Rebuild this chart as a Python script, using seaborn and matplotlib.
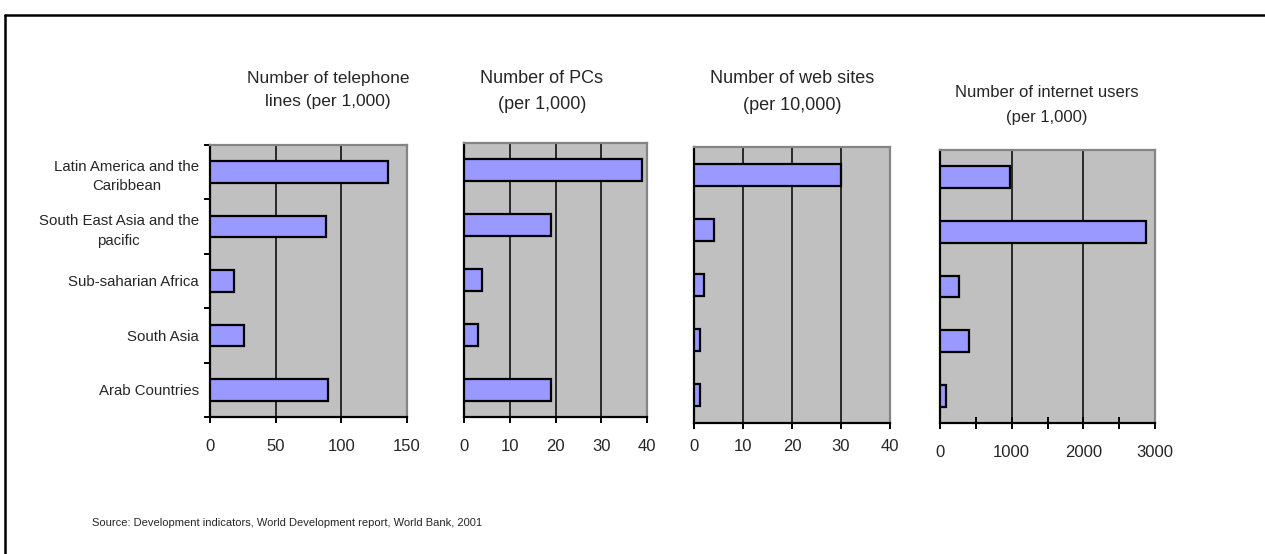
import matplotlib
matplotlib.use("Agg")
import matplotlib.pyplot as plt
from matplotlib.lines import Line2D
from matplotlib.ticker import FixedLocator
import seaborn as sns

# Regions (top to bottom)
regions = [
    "Latin America and the\nCaribbean",
    "South East Asia and the\npacific",
    "Sub-saharian Africa",
    "South Asia",
    "Arab Countries",
]

# Indicators per region
telephone_lines = [135.5, 88.5, 18.5, 26, 90]      # per 1,000
pcs = [39, 19, 4, 3, 19]                            # per 1,000
web_sites = [30, 4, 2, 1.2, 1.2]                    # per 10,000
internet_users = [980, 2880, 260, 400, 85]          # per 1,000

titles = [
    "Number of telephone\nlines (per 1,000)",
    "Number of PCs\n(per 1,000)",
    "Number of web sites\n(per 10,000)",
    "Number of internet users\n(per 1,000)",
]
x_ticks = [
    [0, 50, 100, 150],
    [0, 10, 20, 30, 40],
    [0, 10, 20, 30, 40],
    [0, 1000, 2000, 3000],
]
source = "Source: Development indicators, World Development report, World Bank, 2001"

sns.set_style("white")
plt.rcParams["font.family"] = ["Liberation Sans", "DejaVu Sans"]

W, H = 1265, 554
fig = plt.figure(figsize=(W / 100, H / 100), dpi=100)
fig.patch.set_facecolor("white")

def box(left, top, right, bottom):
    return [left / W, (H - bottom) / H, (right - left) / W, (bottom - top) / H]

boxes = [
    box(210, 145, 407, 417),
    box(464, 143, 647, 417),
    box(694, 147, 890, 423),
    box(940, 150, 1155, 423),
]
# (x centre, y centre, font size, line spacing) of each panel heading
title_pos = [(328, 90, 12.5, 1.65), (542, 91.5, 13, 1.72), (792, 92, 13, 1.72), (1047, 105, 12, 1.85)]
tick_pad = [11, 11, 7, 12]
series = [telephone_lines, pcs, web_sites, internet_users]

bar_color = "#9999FF"
panel_color = "#C0C0C0"
frame_gray = "#858585"

for i, (vals, b) in enumerate(zip(series, boxes)):
    ax = fig.add_axes(b)
    ax.set_facecolor(panel_color)
    sns.barplot(x=vals, y=list(range(len(regions))), orient="h", ax=ax,
                color=bar_color, saturation=1, width=0.4,
                edgecolor="black", linewidth=1.6, zorder=3)
    ticks = x_ticks[i]
    ax.set_xlim(ticks[0], ticks[-1])
    ax.set_ylim(len(regions) - 0.5, -0.5)
    ax.set_xticks(ticks)
    ax.set_xticklabels([str(t) for t in ticks], fontsize=12)
    ax.set_xlabel("")
    ax.set_ylabel("")
    ax.xaxis.grid(True, color="black", linewidth=1.1, zorder=1)
    ax.yaxis.grid(False)
    ax.set_axisbelow(True)

    for side in ("left", "bottom"):
        ax.spines[side].set_color("black")
        ax.spines[side].set_linewidth(1.6)
        ax.spines[side].set_visible(True)
    for side in ("top", "right"):
        ax.spines[side].set_color(frame_gray)
        ax.spines[side].set_linewidth(1.6)
        ax.spines[side].set_visible(True)

    if i == 3:
        ax.xaxis.set_minor_locator(FixedLocator([500, 1500, 2500]))
        ax.tick_params(axis="x", which="both", direction="inout", length=8,
                       width=1.4, color="black", pad=tick_pad[i], bottom=True)
    else:
        ax.tick_params(axis="x", which="major", direction="out", length=4.5,
                       width=1.4, color="black", pad=tick_pad[i], bottom=True)

    if i == 0:
        ax.set_yticks(range(len(regions)))
        ax.set_yticklabels(regions, fontsize=10.8, multialignment="center",
                           linespacing=1.5)
        ax.yaxis.set_minor_locator(FixedLocator([k - 0.5 for k in range(len(regions) + 1)]))
        ax.tick_params(axis="y", which="major", length=0, pad=8, left=True)
        ax.tick_params(axis="y", which="minor", direction="out", length=4.5,
                       width=1.4, color="black", left=True)
    else:
        ax.set_yticks([])

    x, y, fs, ls = title_pos[i]
    fig.text(x / W, 1 - y / H, titles[i], ha="center", va="center",
             multialignment="center", fontsize=fs, linespacing=ls)

fig.text(92 / W, 1 - 523 / H, source, ha="left", va="center", fontsize=8)

# Outer frame: left and top edges
fig.add_artist(Line2D([4.5 / W, 4.5 / W], [0, 1 - 15 / H], transform=fig.transFigure,
                      color="black", linewidth=1.8))
fig.add_artist(Line2D([4.5 / W, 1], [1 - 15 / H, 1 - 15 / H], transform=fig.transFigure,
                      color="black", linewidth=1.8))

fig.savefig("out.png", dpi=100, facecolor="white")
